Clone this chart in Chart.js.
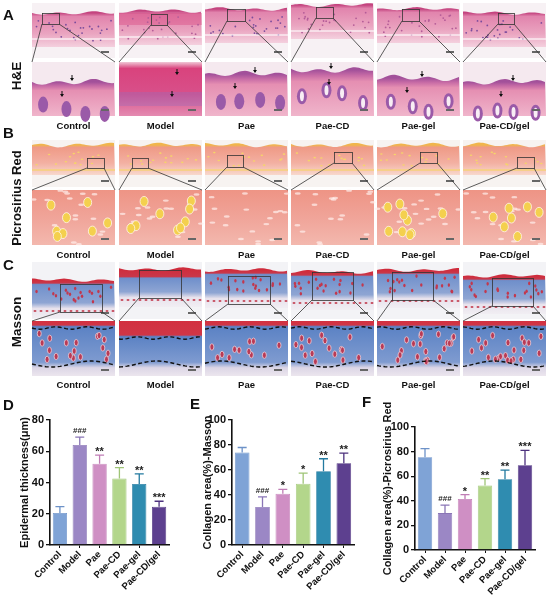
<!DOCTYPE html>
<html>
<head>
<meta charset="utf-8">
<script src="https://cdn.jsdelivr.net/npm/chart.js@4.4.1/dist/chart.umd.min.js"></script>
<style>
  html,body{margin:0;padding:0;background:#fff;}
  #wrap{position:relative;width:550px;height:595px;overflow:hidden;font-family:"Liberation Sans",Arial,sans-serif;}
  canvas{position:absolute;}
  .lbl{position:absolute;font-weight:bold;color:#111;white-space:nowrap;}
</style>
</head>
<body>
<div id="wrap">
  <canvas id="histo" width="550" height="395" style="left:0;top:0;width:550px;height:395px"></canvas>
  <div style="position:absolute;left:0;top:395px;width:182px;height:200px"><canvas id="chartD"></canvas></div>
  <div style="position:absolute;left:180px;top:395px;width:182px;height:200px"><canvas id="chartE"></canvas></div>
  <div style="position:absolute;left:360px;top:395px;width:190px;height:200px"><canvas id="chartF"></canvas></div>
</div>
<script>
// ---------------- data ----------------
const categories = ['Control', 'Model', 'Pae', 'Pae-CD', 'Pae-gel', 'Pae-CD/gel'];

const epidermalMean = [20.5, 64, 52, 42.5, 39, 24.5];
const epidermalErr  = [4, 5, 5.5, 7, 6.5, 3.5];
const epidermalSig  = ['', '###', '**', '**', '**', '***'];
const epidermalTicks = [0, 20, 40, 60, 80];

const massonMean = [74, 30.5, 41, 49, 59, 65.5];
const massonErr  = [4, 8, 3.5, 8.5, 10, 8];
const massonSig  = ['', '###', '*', '*', '**', '**'];

const siriusMean = [75.5, 30, 41.5, 52.5, 57.5, 69];
const siriusErr  = [7, 6.5, 3.5, 5.5, 7.5, 12];
const siriusSig  = ['', '###', '*', '**', '**', '***'];
const collagenTicks = [0, 20, 40, 60, 80, 100];

const rowNames = ['H&E', 'Picrosirius Red', 'Masson'];
const panelLetters = ['A', 'B', 'C', 'D', 'E', 'F'];

const barColors = ['#7fa3d6', '#9b87c5', '#cf8fc4', '#b3d68b', '#2f8cb0', '#5d408f'];
const errColors = ['#6d92c8', '#8a76b6', '#c07cb5', '#9fc577', '#237aa0', '#4d327e'];

const FONT = '"Liberation Sans", Arial, sans-serif';
const wrap = document.getElementById('wrap');

function addLabel(text, x, y, size, opts) {
  const d = document.createElement('div');
  d.className = 'lbl';
  d.textContent = text;
  d.style.fontSize = size + 'px';
  d.style.left = x + 'px';
  d.style.top = y + 'px';
  if (opts && opts.center) {
    d.style.transform = 'translate(-50%,-50%)';
  }
  if (opts && opts.rotCenter) {
    d.style.transform = 'translate(-50%,-50%) rotate(-90deg)';
  }
  wrap.appendChild(d);
}

// ---------------- decorative histology panels ----------------
const hc = document.getElementById('histo').getContext('2d');
const cols = [32, 119, 205, 291, 377, 463];
const PW = 83;
function h(i) { const v = Math.sin(i * 12.9898 + 78.233) * 43758.5453; return v - Math.floor(v); }

const rowsCfg = [
  { topY: 3, topH: 55, botY: 62, botH: 54, labelY: 125,
    boxes: [[42,13,17,11],[151,14,16,11],[227,9,18,12],[316,7,17,11],[402,9,17,12],[498,13,16,11]] },
  { topY: 140, topH: 47, botY: 190, botH: 55, labelY: 254,
    boxes: [[87,158,17,10],[132,158,16,10],[227,155,16,12],[334,152,18,11],[420,152,17,11],[517,157,17,11]] },
  { topY: 262, topH: 57, botY: 321, botH: 55, labelY: 384,
    boxes: [[60,284,42,28],[139,270,42,28],[228,276,42,28],[312,272,41,28],[392,272,41,28],[492,278,41,28]] }
];

function wavyBand(x, w, yTop, yBot, amp, seed, fill) {
  hc.beginPath();
  hc.moveTo(x, yBot);
  for (let k = 0; k <= w; k += 2) {
    hc.lineTo(x + k, yTop + amp * Math.sin(k * 0.18 + seed) + amp * 0.6 * Math.sin(k * 0.07 + seed * 2));
  }
  hc.lineTo(x + w, yBot);
  hc.closePath();
  hc.fillStyle = fill;
  hc.fill();
}
function ell(cx, cy, rx, ry, fill, stroke) {
  hc.beginPath();
  hc.ellipse(cx, cy, rx, ry, 0, 0, Math.PI * 2);
  if (fill) { hc.fillStyle = fill; hc.fill(); }
  if (stroke) { hc.strokeStyle = stroke; hc.lineWidth = 0.8; hc.stroke(); }
}
function scaleBar(x, y, w, hh) {
  hc.fillStyle = '#666';
  hc.fillRect(x + w - 14, y + hh - 7, 8, 2);
}
function arrow(x, y, dir) {
  hc.strokeStyle = '#111'; hc.fillStyle = '#111'; hc.lineWidth = 1;
  hc.beginPath(); hc.moveTo(x, y - 5 * dir); hc.lineTo(x, y); hc.stroke();
  hc.beginPath(); hc.moveTo(x - 2, y - 2 * dir); hc.lineTo(x + 2, y - 2 * dir); hc.lineTo(x, y + 1 * dir); hc.closePath(); hc.fill();
}

function heTop(x, y, w, hh, i) {
  hc.fillStyle = '#f7f1f4'; hc.fillRect(x, y, w, hh);
  const off = [10, 8, 6, 2, 6, 10][i];
  const g = hc.createLinearGradient(0, y + off, 0, y + off + 34);
  g.addColorStop(0, '#c4447f'); g.addColorStop(0.1, '#e184ad'); g.addColorStop(0.6, '#eaa4c0'); g.addColorStop(1, '#f4d0de');
  wavyBand(x, w, y + off, y + off + 34, 1.2, i, g);
  if (i === 1) { hc.fillStyle = 'rgba(214,60,120,0.35)'; hc.fillRect(x, y + off + 2, w, 12); }
  for (let k = 0; k < 26; k++) {
    const px = x + 3 + h(k + i * 50) * (w - 6), py = y + off + 6 + h(k * 3 + i) * 22;
    ell(px, py, 0.9, 0.9, (i === 0 || i === 5 || i === 2) ? '#7b4c9c' : '#b45c98');
  }
  hc.fillStyle = 'rgba(255,255,255,0.55)'; hc.fillRect(x, y + off + 25, w, 2);
  scaleBar(x, y, w, hh);
}
function heBot(x, y, w, hh, i) {
  hc.fillStyle = '#f5e9ef'; hc.fillRect(x, y, w, hh);
  if (i === 1) {
    const g = hc.createLinearGradient(0, y, 0, y + hh);
    g.addColorStop(0, '#f0c7d6'); g.addColorStop(0.12, '#d9437d'); g.addColorStop(0.6, '#d8508a'); g.addColorStop(1, '#e48bb1');
    hc.fillStyle = g; hc.fillRect(x, y, w, hh);
    hc.fillStyle = 'rgba(150,110,190,0.35)'; hc.fillRect(x, y + 30, w, 14);
    arrow(x + 58, y + 12, 1); arrow(x + 53, y + 34, 1);
    scaleBar(x, y, w, hh); return;
  }
  const ep = y + [20, 0, 12, 8, 16, 20][i];
  const g = hc.createLinearGradient(0, ep, 0, y + hh);
  g.addColorStop(0, '#a2509a'); g.addColorStop(0.12, '#c86ca6'); g.addColorStop(0.25, '#e58fb2'); g.addColorStop(1, '#f0b5cb');
  wavyBand(x, w, ep, y + hh, 2, i * 2, g);
  for (let k = 0; k < 4; k++) {
    const cx = x + 10 + k * 20 + h(k + i * 9) * 6, cy = ep + 20 + h(k * 7 + i) * 14;
    ell(cx, cy, 5, 8, '#9a5aa8');
    if (i >= 3) ell(cx, cy, 2, 5, '#f8eef4');
  }
  arrow(x + 40 + (i % 3) * 5, ep - 2, 1); arrow(x + 30 + (i % 2) * 8, ep + 14, 1);
  scaleBar(x, y, w, hh);
}
function prTop(x, y, w, hh, i) {
  hc.fillStyle = '#f7f3f1'; hc.fillRect(x, y, w, hh);
  const g = hc.createLinearGradient(0, y + 5, 0, y + 35);
  g.addColorStop(0, '#f0b64c'); g.addColorStop(0.08, '#ef9a86'); g.addColorStop(0.6, '#f3b0a2'); g.addColorStop(1, '#f8d8cc');
  wavyBand(x, w, y + 5, y + 35, 1.5, i + 3, g);
  for (let k = 0; k < 14; k++) {
    ell(x + 3 + h(k + i * 31) * (w - 6), y + 12 + h(k * 5 + i) * 14, 1.3, 0.8, '#f5d46a');
  }
  hc.fillStyle = '#f6cf8a'; hc.fillRect(x, y + 29, w, 2);
  scaleBar(x, y, w, hh);
}
function prBot(x, y, w, hh, i) {
  const g = hc.createLinearGradient(0, y, 0, y + hh);
  g.addColorStop(0, '#ee9485'); g.addColorStop(0.5, '#f0a499'); g.addColorStop(1, '#f3b8ae');
  hc.fillStyle = g; hc.fillRect(x, y, w, hh);
  for (let k = 0; k < 18; k++) {
    ell(x + h(k + i * 17) * w, y + h(k * 9 + i * 3) * hh, 3, 1.2, 'rgba(255,240,236,0.7)');
  }
  const n = [8, 9, 0, 0, 9, 7][i];
  for (let k = 0; k < n; k++) {
    const cx = x + 6 + h(k * 13 + i) * (w - 12), cy = y + 8 + h(k * 7 + i * 5) * (hh - 16);
    ell(cx, cy, 4, 5, '#f4d04e', '#fff6ea');
  }
  scaleBar(x, y, w, hh);
}
function maTop(x, y, w, hh, i) {
  hc.fillStyle = '#f3f3f6'; hc.fillRect(x, y, w, hh);
  const off = [18, 7, 8, 10, 8, 14][i];
  const g = hc.createLinearGradient(0, y + off, 0, y + off + 38);
  g.addColorStop(0, '#cf2c3c'); g.addColorStop(i === 1 ? 0.2 : 0.08, '#c9384a');
  g.addColorStop(i === 1 ? 0.24 : 0.12, '#6f8fcb'); g.addColorStop(0.6, '#8ea5d3'); g.addColorStop(0.75, '#e8e2ec'); g.addColorStop(1, '#f1eef3');
  wavyBand(x, w, y + off, y + off + 38, 1.2, i + 5, g);
  if (i !== 1) {
    for (let k = 0; k < 20; k++) ell(x + 3 + h(k + i * 41) * (w - 6), y + off + 6 + h(k * 3 + i * 7) * 16, 1.2, 1.8, '#c2384e');
  }
  for (let k = 0; k < 14; k++) ell(x + 3 + k * 6, y + off + 31, 1.5, 1, '#c64a5c');
  scaleBar(x, y, w, hh);
}
function maBot(x, y, w, hh, i) {
  const redH = i === 1 ? 14 : 4;
  const g = hc.createLinearGradient(0, y, 0, y + hh);
  g.addColorStop(0, '#d23040'); g.addColorStop(redH / hh, '#d03646');
  g.addColorStop(redH / hh + 0.03, '#5b82c4'); g.addColorStop(0.75, '#7f9bd0'); g.addColorStop(0.85, '#dcd6e6'); g.addColorStop(1, '#ece6ee');
  hc.fillStyle = g; hc.fillRect(x, y, w, hh);
  if (i !== 1) {
    const n = [18, 0, 12, 16, 22, 22][i];
    for (let k = 0; k < n; k++) {
      ell(x + 4 + h(k * 11 + i) * (w - 8), y + redH + 8 + h(k * 5 + i * 3) * (hh - redH - 22), 2, 3.2, '#b93a55', '#e8d0dc');
    }
  }
  hc.save();
  hc.setLineDash([4, 2.5]); hc.strokeStyle = '#111'; hc.lineWidth = 1.4;
  hc.beginPath();
  for (let k = 0; k <= w; k += 2) { const yy = y + redH + 3 + 1.2 * Math.sin(k * 0.2 + i); k ? hc.lineTo(x + k, yy) : hc.moveTo(x + k, yy); }
  hc.stroke();
  hc.beginPath();
  for (let k = 0; k <= w; k += 2) { const yy = y + hh - 12 + 3 * Math.sin(k * 0.08 + i * 1.7); k ? hc.lineTo(x + k, yy) : hc.moveTo(x + k, yy); }
  hc.stroke();
  hc.restore();
  scaleBar(x, y, w, hh);
}
const drawers = [[heTop, heBot], [prTop, prBot], [maTop, maBot]];

rowsCfg.forEach((r, ri) => {
  cols.forEach((cx, i) => {
    drawers[ri][0](cx, r.topY, PW, r.topH, i);
    drawers[ri][1](cx, r.botY, PW, r.botH, i);
    const b = r.boxes[i];
    hc.strokeStyle = '#333'; hc.lineWidth = 0.8;
    hc.strokeRect(b[0] + 0.5, b[1] + 0.5, b[2], b[3]);
    hc.beginPath();
    hc.moveTo(b[0], b[1] + b[3]); hc.lineTo(cx, r.botY);
    hc.moveTo(b[0] + b[2], b[1] + b[3]); hc.lineTo(cx + PW, r.botY);
    hc.stroke();
    addLabel(categories[i], cx + PW / 2, r.labelY, 9.5, { center: true });
  });
});
addLabel(rowNames[0], 16, 76, 13.5, { rotCenter: true });
addLabel(rowNames[1], 16, 198, 13, { rotCenter: true });
addLabel(rowNames[2], 16, 322, 13.5, { rotCenter: true });
addLabel(panelLetters[0], 3, 6, 15);
addLabel(panelLetters[1], 3, 124, 15);
addLabel(panelLetters[2], 3, 256, 15);
addLabel(panelLetters[3], 3, 396, 15);
addLabel(panelLetters[4], 190, 395, 15);
addLabel(panelLetters[5], 362, 393, 15);

// ---------------- charts ----------------
const errorBarPlugin = {
  id: 'errorBars',
  afterDatasetsDraw(chart, args, opts) {
    const { ctx } = chart;
    const y = chart.scales.y;
    const meta = chart.getDatasetMeta(0);
    ctx.save();
    meta.data.forEach((bar, i) => {
      const top = y.getPixelForValue(opts.mean[i] + opts.err[i]);
      ctx.strokeStyle = errColors[i];
      ctx.lineWidth = 1.3;
      ctx.beginPath();
      ctx.moveTo(bar.x, bar.y);
      ctx.lineTo(bar.x, top);
      ctx.moveTo(bar.x - 4.5, top);
      ctx.lineTo(bar.x + 4.5, top);
      ctx.stroke();
      const s = opts.sig[i];
      if (s) {
        ctx.fillStyle = '#222';
        ctx.textAlign = 'center';
        ctx.textBaseline = 'alphabetic';
        if (s.startsWith('#')) {
          ctx.font = 'bold 8px ' + FONT;
          ctx.fillText(s, bar.x, top - 4);
        } else {
          ctx.font = 'bold 11px ' + FONT;
          ctx.fillText(s, bar.x, top);
        }
      }
    });
    ctx.restore();
  }
};

function makeChart(id, mean, err, sig, ticksArr, title, pad, yWidth, xHeight) {
  const yMax = ticksArr[ticksArr.length - 1];
  return new Chart(document.getElementById(id), {
    type: 'bar',
    data: {
      labels: categories,
      datasets: [{
        data: mean,
        backgroundColor: barColors,
        borderColor: errColors,
        borderWidth: 0.8,
        barPercentage: 0.72,
        categoryPercentage: 1.0
      }]
    },
    options: {
      responsive: true,
      maintainAspectRatio: false,
      animation: false,
      layout: { padding: pad },
      plugins: {
        legend: { display: false },
        tooltip: { enabled: false },
        errorBars: { mean: mean, err: err, sig: sig }
      },
      scales: {
        x: {
          grid: { display: true, drawOnChartArea: false, drawTicks: true, tickLength: 3, offset: false, color: '#111', lineWidth: 1 },
          border: { display: true, color: '#111', width: 1.6 },
          ticks: {
            autoSkip: false, minRotation: 45, maxRotation: 45, padding: 1,
            color: '#111', font: { family: FONT, size: 9.5, weight: 'bold' }
          },
          afterFit(s) { s.height = xHeight; }
        },
        y: {
          min: 0, max: yMax,
          afterBuildTicks(s) { s.ticks = ticksArr.map(v => ({ value: v })); },
          grid: { display: true, drawOnChartArea: false, drawTicks: true, tickLength: 4, color: '#111', lineWidth: 1.3 },
          border: { display: true, color: '#111', width: 1.6 },
          ticks: { color: '#111', padding: 2, font: { family: FONT, size: 11, weight: 'bold' } },
          title: { display: true, text: title, color: '#111', padding: { top: 0, bottom: 2 }, font: { family: FONT, size: 11, weight: 'bold' } },
          afterFit(s) { s.width = yWidth; }
        }
      }
    },
    plugins: [errorBarPlugin]
  });
}

makeChart('chartD', epidermalMean, epidermalErr, epidermalSig, epidermalTicks,
  'Epidermal thickness(μm)', { left: 18, right: 13, top: 25, bottom: 0 }, 32, 50);
makeChart('chartE', massonMean, massonErr, massonSig, collagenTicks,
  'Collagen area(%)-Masson', { left: 21, right: 8, top: 25, bottom: 0 }, 31, 50);
makeChart('chartF', siriusMean, siriusErr, siriusSig, collagenTicks,
  'Collagen area(%)-Picrosirius Red', { left: 21, right: 15, top: 32, bottom: 0 }, 34, 45);
</script>
</body>
</html>
